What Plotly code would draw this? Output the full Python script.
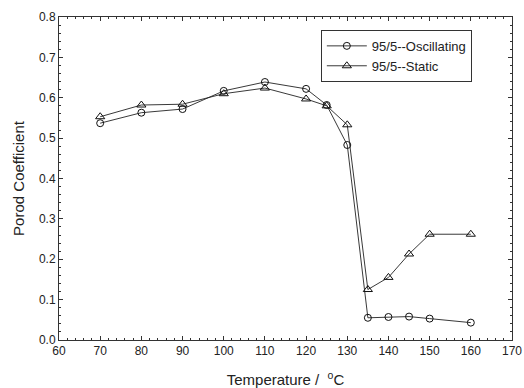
import plotly.graph_objects as go

temps = [70, 80, 90, 100, 110, 120, 125, 130, 135, 140, 145, 150, 160]
oscillating = [0.537, 0.563, 0.572, 0.617, 0.639, 0.622, 0.582, 0.483, 0.055, 0.057, 0.058, 0.053, 0.043]
static = [0.553, 0.582, 0.584, 0.610, 0.624, 0.597, 0.580, 0.533, 0.125, 0.155, 0.213, 0.262, 0.262]

font = "Liberation Sans, Arial, sans-serif"
fig = go.Figure()
fig.add_trace(go.Scatter(x=temps, y=oscillating, mode="lines+markers", name="95/5--Oscillating",
                         line=dict(color="#222", width=0.9),
                         marker=dict(symbol="circle-open", size=7, color="#111", line=dict(width=1))))
fig.add_trace(go.Scatter(x=temps, y=static, mode="lines+markers", name="95/5--Static",
                         line=dict(color="#222", width=0.9),
                         marker=dict(symbol="triangle-up-open", size=8, color="#111", line=dict(width=1))))

axis_common = dict(showgrid=False, zeroline=False, showline=True, linecolor="#333", linewidth=1,
                   mirror="ticks", ticks="inside", ticklen=4, tickcolor="#333", automargin=False,
                   tickfont=dict(family=font, size=12, color="#222"),
                   minor=dict(ticks="inside", ticklen=2, tickcolor="#333"))
fig.update_xaxes(range=[60, 170], dtick=10, tick0=60,
                 title=dict(text="Temperature /  <sup>o</sup>C", font=dict(family=font, size=15, color="#222"), standoff=20),
                 **axis_common)
fig.update_yaxes(range=[0, 0.8], dtick=0.1, tickformat=".1f",
                 title=dict(text="Porod Coefficient", font=dict(family=font, size=15, color="#222"), standoff=10),
                 **axis_common)
fig.update_layout(width=524, height=388, margin=dict(l=59, r=12, t=17, b=48),
                  plot_bgcolor="white", paper_bgcolor="white",
                  legend=dict(x=0.578, y=0.96, xanchor="left", yanchor="top", bgcolor="white",
                              bordercolor="#333", borderwidth=1, font=dict(family=font, size=13, color="#222"),
                              tracegroupgap=0, itemwidth=40),
                  showlegend=True)
fig.write_html("out.html")
